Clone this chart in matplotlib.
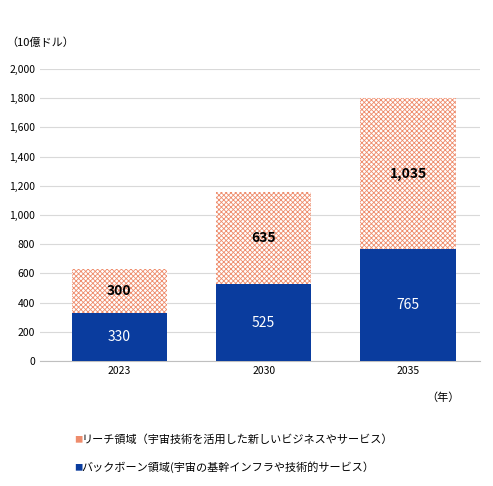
import matplotlib
matplotlib.use("Agg")
import matplotlib.pyplot as plt
plt.rcParams['font.family'] = ['Noto Sans CJK JP', 'DejaVu Sans']
plt.rcParams['hatch.linewidth'] = 0.6

years = ["2023", "2030", "2035"]
backbone = [330, 525, 765]
reach = [300, 635, 1035]
reach_labels = ["300", "635", "1,035"]
yticks = list(range(0, 2001, 200))

fig = plt.figure(figsize=(4.93, 4.86), dpi=100)
ax = fig.add_axes([0.081, 0.257, 0.893, 0.601])
x = range(len(years))
ax.bar(x, backbone, width=0.66, color="#0a3c9e", zorder=3)
ax.bar(x, reach, bottom=backbone, width=0.66, facecolor="white",
       edgecolor="#ee8c6c", hatch="xxxxxxx", linewidth=0, zorder=3)
for i in x:
    ax.text(i, backbone[i] / 2, str(backbone[i]), ha="center", va="center",
            color="white", fontsize=10, zorder=4)
    ax.text(i, backbone[i] + reach[i] / 2, reach_labels[i], ha="center", va="center",
            color="black", fontsize=10, fontweight="bold", zorder=4)
ax.set_ylim(0, 2000)
ax.set_xlim(-0.55, 2.5)
ax.set_yticks(yticks)
ax.set_yticklabels([f"{v:,}" for v in yticks], fontsize=7.5)
ax.set_xticks(list(x))
ax.set_xticklabels(years, fontsize=7.5)
ax.grid(axis="y", color="#d9d9d9", linewidth=0.8, zorder=0)
for s in ["top", "right", "left"]:
    ax.spines[s].set_visible(False)
ax.spines["bottom"].set_color("#bfbfbf")
ax.tick_params(length=0)
fig.text(0.012, 0.905, "（10億ドル）", fontsize=8)
fig.text(0.865, 0.175, "（年）", fontsize=8)
fig.text(0.15, 0.095, "■", color="#ee8c6c", fontsize=6, va="center")
fig.text(0.165, 0.095, "リーチ領域（宇宙技術を活用した新しいビジネスやサービス）", fontsize=8, va="center")
fig.text(0.15, 0.038, "■", color="#0a3c9e", fontsize=6, va="center")
fig.text(0.165, 0.038, "バックボーン領域(宇宙の基幹インフラや技術的サービス）", fontsize=8, va="center")
fig.savefig("out.png", dpi=100)
